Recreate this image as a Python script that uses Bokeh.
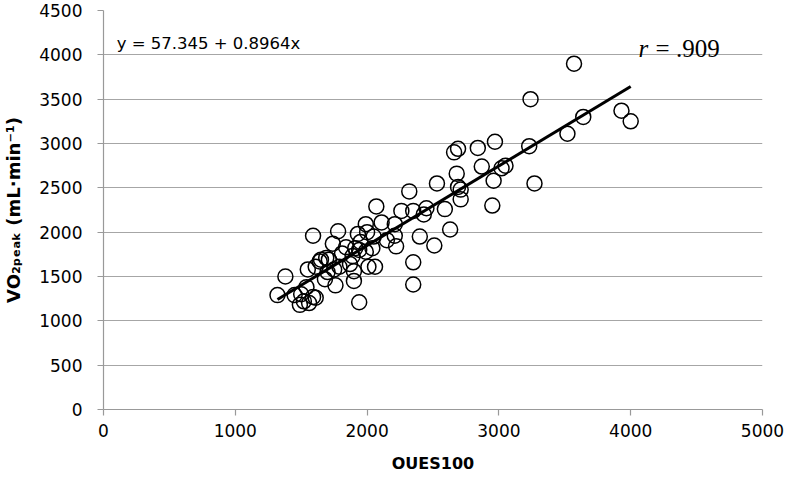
from bokeh.plotting import figure
from bokeh.models import Range1d, FixedTicker, Label, ColumnDataSource
from bokeh.embed import file_html
from bokeh.resources import INLINE

# OUES100 values (x) and VO2peak values (y)
oues100 = [1320, 1380, 1450, 1500, 1490, 1560, 1590, 1610, 1520, 1540, 1550, 1610,
           1640, 1650, 1690, 1710, 1700, 1590, 1680, 1750, 1760, 1790, 1780, 1740,
           1810, 1840, 1870, 1890, 1900, 1900, 1910, 1930, 1940, 1940, 1950, 1990,
           1990, 2000, 2010, 2040, 2050, 2060, 2070, 2110, 2150, 2210, 2210, 2220,
           2260, 2320, 2350, 2350, 2350, 2400, 2430, 2450, 2510, 2530, 2590, 2630,
           2660, 2690, 2680, 2690, 2710, 2710, 2840, 2870, 2950, 2960, 2970, 3020,
           3050, 3230, 3240, 3270, 3520, 3570, 3640, 3930, 4000]
vo2peak = [1290, 1500, 1290, 1300, 1180, 1200, 1270, 1260, 1220, 1380, 1580, 1610,
           1670, 1690, 1710, 1690, 1550, 1960, 1470, 1580, 1400, 1610, 2010, 1870,
           1760, 1830, 1640, 1730, 1560, 1450, 1820, 1980, 1800, 1210, 1890, 2090,
           1780, 2000, 1610, 1820, 1950, 1610, 2290, 2110, 1910, 2090, 1960, 1840,
           2240, 2460, 2240, 1660, 1410, 1950, 2200, 2270, 1850, 2550, 2260, 2030,
           2900, 2940, 2660, 2510, 2480, 2370, 2950, 2740, 2300, 2580, 3020, 2720,
           2750, 2970, 3500, 2550, 3110, 3900, 3300, 3370, 3250]

x_ticks = [0, 1000, 2000, 3000, 4000, 5000]
y_ticks = [0, 500, 1000, 1500, 2000, 2500, 3000, 3500, 4000, 4500]

intercept = 57.345
slope = 0.8964
r_value = ".909"

fit_x = [min(oues100), max(oues100)]
fit_y = [intercept + slope * v for v in fit_x]

p = figure(width=784, height=475, x_range=Range1d(0, 5000), y_range=Range1d(0, 4500),
           output_backend="svg", toolbar_location=None,
           min_border_left=100, min_border_right=22, min_border_top=10, min_border_bottom=64)

p.outline_line_color = None
p.background_fill_color = "white"
p.border_fill_color = "white"
p.xgrid.visible = False
p.ygrid.grid_line_color = "#a6a6a6"
p.ygrid.grid_line_width = 1.2

font = "DejaVu Sans"
for ax in (p.xaxis[0], p.yaxis[0]):
    ax.axis_line_color = "#999999"
    ax.axis_line_width = 1.2
    ax.major_tick_line_color = "#999999"
    ax.major_tick_line_width = 1.2
    ax.major_tick_in = 0
    ax.major_tick_out = 6
    ax.minor_tick_line_color = None
    ax.major_label_text_font = font
    ax.major_label_text_font_size = "17px"
    ax.major_label_text_color = "black"
    ax.axis_label_text_font = font
    ax.axis_label_text_font_style = "bold"
    ax.axis_label_text_color = "black"

p.xaxis.ticker = FixedTicker(ticks=x_ticks)
p.yaxis.ticker = FixedTicker(ticks=y_ticks)
p.xaxis.major_label_standoff = 8
p.yaxis.major_label_standoff = 15
p.xaxis.axis_label = "OUES100"
p.xaxis.axis_label_text_font_size = "16px"
p.xaxis.axis_label_standoff = 14
p.yaxis.axis_label = "VO\u2082\u209a\u2091\u2090\u2096 (mL\u00b7min\u207b\u00b9)"
p.yaxis.axis_label_text_font_size = "18px"
p.yaxis.axis_label_standoff = 12

src = ColumnDataSource(data=dict(x=oues100, y=vo2peak))
p.scatter("x", "y", source=src, size=15, marker="circle", fill_color=None,
          line_color="black", line_width=1.5)
p.line(fit_x, fit_y, line_color="black", line_width=3)

p.add_layout(Label(x=100, y=4123, text="y = 57.345 + 0.8964x", text_font=font,
                   text_font_size="16.5px", text_color="black", text_baseline="alphabetic"))
p.add_layout(Label(x=4060, y=4067, text="r", text_font="Liberation Serif",
                   text_font_style="italic", text_font_size="25px", text_color="black",
                   text_baseline="alphabetic"))
p.add_layout(Label(x=4060, y=4067, x_offset=17, text="= " + r_value, text_font="Liberation Serif",
                   text_font_size="25px", text_color="black", text_baseline="alphabetic"))

open("out.html", "w").write(file_html(p, INLINE))
